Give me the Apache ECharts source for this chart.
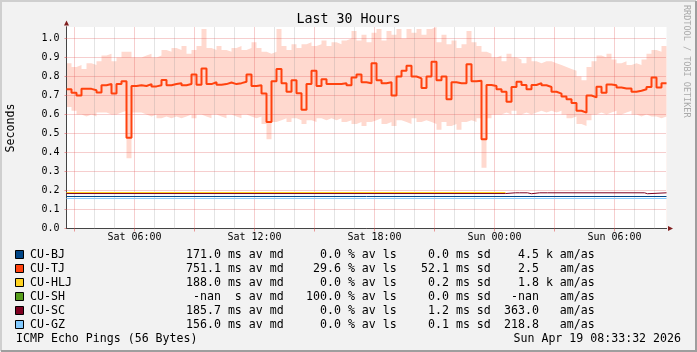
<!DOCTYPE html>
<html>
<head>
<meta charset="utf-8">
<script src="https://cdn.jsdelivr.net/npm/echarts@6/dist/echarts.min.js"></script>
<style>
  html, body { margin: 0; padding: 0; background: #f2f2f2; }
  #chart { width: 697px; height: 352px; }
</style>
</head>
<body>
<div id="chart"></div>
<script>
// x = hours since Sat 00:00 (Sat 02:36 .. Sun 08:36), one sample every 15 min
var startHour = 2.6;
var endHour = 32.6;
var stepHour = 0.25;

// CU-TJ median and smoke (min / max ping), seconds
var tjMedian = [
  0.733, 0.715, 0.700, 0.735, 0.735, 0.728, 0.716, 0.754, 0.760, 0.710, 0.760, 0.775,
  0.477, 0.750, 0.754, 0.750, 0.760, 0.748, 0.754, 0.782, 0.754, 0.760, 0.765, 0.754,
  0.760, 0.810, 0.757, 0.842, 0.760, 0.770, 0.756, 0.760, 0.768, 0.760, 0.765, 0.772,
  0.810, 0.750, 0.754, 0.710, 0.561, 0.775, 0.840, 0.765, 0.720, 0.780, 0.712, 0.625,
  0.760, 0.830, 0.750, 0.785, 0.760, 0.760, 0.760, 0.765, 0.754, 0.795, 0.810, 0.770,
  0.765, 0.870, 0.780, 0.765, 0.770, 0.700, 0.800, 0.830, 0.856, 0.800, 0.790, 0.740,
  0.800, 0.877, 0.780, 0.800, 0.680, 0.770, 0.765, 0.765, 0.865, 0.775, 0.778, 0.470,
  0.755, 0.750, 0.733, 0.720, 0.667, 0.745, 0.772, 0.755, 0.733, 0.755, 0.765, 0.754,
  0.745, 0.720, 0.710, 0.695, 0.680, 0.660, 0.620, 0.610, 0.700, 0.690, 0.746, 0.715,
  0.758, 0.754, 0.742, 0.737, 0.737, 0.720, 0.725, 0.733, 0.745, 0.795, 0.742, 0.765
];
var tjSmokeTop = [
  0.87, 0.85, 0.86, 0.84, 0.87, 0.86, 0.88, 0.91, 0.92, 0.88, 0.90, 0.93,
  0.93, 0.90, 0.90, 0.91, 0.92, 0.90, 0.91, 0.94, 0.93, 0.95, 0.94, 0.96,
  0.92, 0.94, 0.96, 1.05, 0.95, 0.94, 0.96, 0.94, 0.93, 0.95, 0.96, 0.94,
  0.95, 0.98, 0.95, 0.93, 0.92, 0.93, 1.05, 0.96, 0.94, 0.97, 0.95, 0.97,
  0.98, 0.96, 0.97, 0.99, 0.96, 0.98, 0.97, 0.99, 1.00, 1.04, 0.99, 1.02,
  0.98, 1.03, 1.05, 0.99, 1.04, 1.02, 1.05, 1.00, 1.05, 1.03, 1.05, 1.02,
  1.05, 1.06, 0.98, 1.02, 0.97, 0.99, 0.95, 0.97, 1.04, 0.98, 0.96, 0.93,
  0.92, 0.90, 0.91, 0.88, 0.92, 0.90, 0.89, 0.87, 0.90, 0.88, 0.87, 0.88,
  0.88, 0.87, 0.86, 0.85, 0.84, 0.83, 0.80, 0.78, 0.85, 0.88, 0.91, 0.90,
  0.92, 0.89, 0.87, 0.88, 0.86, 0.87, 0.86, 0.89, 0.92, 0.94, 0.93, 0.96
];
var tjSmokeLow = [
  0.64, 0.62, 0.60, 0.59, 0.60, 0.59, 0.61, 0.61, 0.60, 0.60, 0.61, 0.62,
  0.37, 0.61, 0.61, 0.60, 0.59, 0.60, 0.58, 0.59, 0.58, 0.59, 0.58, 0.59,
  0.60, 0.58, 0.60, 0.59, 0.58, 0.60, 0.59, 0.58, 0.60, 0.59, 0.58, 0.60,
  0.59, 0.58, 0.59, 0.55, 0.47, 0.56, 0.57, 0.58, 0.56, 0.58, 0.57, 0.55,
  0.57, 0.56, 0.58, 0.57, 0.58, 0.57, 0.58, 0.56, 0.57, 0.55, 0.56, 0.54,
  0.56, 0.57, 0.58, 0.55, 0.56, 0.54, 0.57, 0.56, 0.55, 0.58, 0.56, 0.57,
  0.56, 0.55, 0.52, 0.56, 0.54, 0.55, 0.52, 0.56, 0.57, 0.56, 0.58, 0.32,
  0.58, 0.60, 0.60, 0.61, 0.60, 0.62, 0.60, 0.61, 0.60, 0.61, 0.62, 0.61,
  0.62, 0.61, 0.62, 0.60, 0.58, 0.59, 0.55, 0.54, 0.57, 0.60, 0.61, 0.60,
  0.61, 0.62, 0.60, 0.61, 0.62, 0.60, 0.59, 0.60, 0.59, 0.59, 0.58, 0.59
];

// the flat hosts
var bjHours = [2.6, 32.6];
var bjValues = [0.1684, 0.1684];
var hljHours = [2.6, 24.55];
var hljValues = [0.1895, 0.1895];
var scHours = [2.6, 24.55, 25.05, 25.15, 25.25, 25.3, 25.65, 25.85, 26.25, 26.35, 26.65, 26.75, 31.5, 31.65, 32.6];
var scValues = [0.184, 0.1879, 0.183, 0.1879, 0.183, 0.1879, 0.183, 0.1879, 0.183, 0.1879, 0.183, 0.1879, 0.183, 0.1879, 0.1879];
var gzHours = [2.6, 32.6];
var gzValues = [0.158, 0.158];

// legend
var hostNames = ["CU-BJ", "CU-TJ", "CU-HLJ", "CU-SH", "CU-SC", "CU-GZ"];
var hostColors = ["#004586", "#ff420e", "#ffd320", "#579d1c", "#7e0021", "#83caff"];
var medianText = ["171.0", "751.1", "188.0", "-nan", "185.7", "156.0"];
var medianPrefix = ["m", "m", "m", " ", "m", "m"];
var lossText = ["0.0", "29.6", "0.0", "100.0", "0.0", "0.0"];
var sdText = ["0.0", "52.1", "0.2", "0.0", "1.2", "0.1"];
var amasText = ["4.5", "2.5", "1.8", "-nan", "363.0", "218.8"];
var amasPrefix = ["k", " ", "k", " ", " ", " "];

// axes
var xLabelHours = [6, 12, 18, 24, 30];
var xLabelText = ["Sat 06:00", "Sat 12:00", "Sat 18:00", "Sun 00:00", "Sun 06:00"];
var majorHours = [3, 6, 9, 12, 15, 18, 21, 24, 27, 30];
var minorHours = [4, 5, 7, 8, 10, 11, 13, 14, 16, 17, 19, 20, 22, 23, 25, 26, 28, 29, 31, 32];
var yTicks = [0, 0.1, 0.2, 0.3, 0.4, 0.5, 0.6, 0.7, 0.8, 0.9, 1.0];

var mono = "DejaVu Sans Mono";
var minorColor = "rgba(150,150,150,0.5)";
var majorColor = "rgba(222,79,79,0.55)";

function pad(s, n) {
  while (s.length < n) s = " " + s;
  return s;
}

function stepData(values) {
  var out = values.map(function (v, i) { return [startHour + i * stepHour, v]; });
  out.push([endHour, values[values.length - 1]]);
  return out;
}
function pairs(hours, values) {
  return hours.map(function (h, i) { return [h, values[i]]; });
}

var gridLines = [];
minorHours.forEach(function (h) {
  gridLines.push({ xAxis: h, lineStyle: { color: minorColor, type: [1, 1], width: 1 } });
});
majorHours.forEach(function (h) {
  gridLines.push({ xAxis: h, lineStyle: { color: majorColor, type: [1, 1], width: 1 } });
});
yTicks.forEach(function (v) {
  if (v > 0) gridLines.push({ yAxis: v, lineStyle: { color: majorColor, type: [1, 1], width: 1 } });
});

var flatLine = function (name, data, color) {
  return {
    name: name, type: "line", data: data, step: "end", symbol: "none", z: 3,
    silent: true, lineStyle: { color: color, width: 1 }
  };
};

// legend rows, title and side texts
var graphics = [];
var rowY = 255.2, rowGap = 14;
hostNames.forEach(function (name, i) {
  var y = rowY + rowGap * i;
  graphics.push({ type: "rect", shape: { x: 15.5, y: y - 4.7, width: 8, height: 8 },
    style: { fill: hostColors[i], stroke: "#000", lineWidth: 1 } });
  var cols = [
    [30, name],
    [186, pad(medianText[i], 5) + " " + medianPrefix[i] + "s av md"],
    [306, pad(lossText[i], 5) + " % av ls"],
    [421, pad(sdText[i], 4) + " ms sd"],
    [504, pad(amasText[i], 5) + " " + amasPrefix[i] + " am/as"]
  ];
  cols.forEach(function (c) {
    graphics.push({ type: "text", x: c[0], y: y,
      style: { text: c[1], fill: "#000", fontFamily: mono, fontSize: 11.6, textAlign: "left", textVerticalAlign: "middle" } });
  });
});
var lastY = rowY + rowGap * 6;
graphics.push({ type: "text", x: 16, y: lastY,
  style: { text: "ICMP Echo Pings (56 Bytes)", fill: "#000", fontFamily: mono, fontSize: 11.6, textAlign: "left", textVerticalAlign: "middle" } });
graphics.push({ type: "text", x: 681, y: lastY,
  style: { text: "Sun Apr 19 08:33:32 2026", fill: "#000", fontFamily: mono, fontSize: 11.6, textAlign: "right", textVerticalAlign: "middle" } });
graphics.push({ type: "text", x: 348.5, y: 20, z: 10,
  style: { text: "Last 30 Hours", fill: "#000", fontFamily: mono, fontSize: 13.3, textAlign: "center", textVerticalAlign: "middle" } });
graphics.push({ type: "text", x: 10.5, y: 128, rotation: Math.PI / 2,
  style: { text: "Seconds", fill: "#000", fontFamily: mono, fontSize: 11.6, textAlign: "center", textVerticalAlign: "middle" } });
graphics.push({ type: "text", x: 686.5, y: 5, rotation: -Math.PI / 2,
  style: { text: "RRDTOOL / TOBI OETIKER", fill: "#aaa", fontFamily: mono, fontSize: 8.5, textAlign: "left", textVerticalAlign: "middle" } });
// frame
graphics.push({ type: "polyline", shape: { points: [[1, 351], [1, 1], [696, 1]] }, style: { stroke: "#cfcfcf", lineWidth: 2, fill: null } });
graphics.push({ type: "polyline", shape: { points: [[1, 351], [696, 351], [696, 1]] }, style: { stroke: "#9e9e9e", lineWidth: 2, fill: null } });

var chart = echarts.init(document.getElementById("chart"));
var option = {
  animation: false,
  backgroundColor: "#f2f2f2",
  grid: { left: 66.5, top: 27, width: 600, height: 201.5, show: true, backgroundColor: "#fff", borderWidth: 0 },
  xAxis: [
    {
      type: "value", min: startHour, max: endHour, position: "bottom", z: 1,
      axisLine: { show: true, onZero: false, lineStyle: { color: "#444" } },
      axisTick: { show: true, customValues: majorHours, length: 3, lineStyle: { color: majorColor } },
      axisLabel: {
        customValues: xLabelHours, margin: 4, color: "#000", fontFamily: mono, fontSize: 10,
        formatter: function (v) {
          var i = xLabelHours.indexOf(v);
          return i >= 0 ? xLabelText[i] : "";
        }
      },
      splitLine: { show: false }
    },
    {
      // only the arrow at the end of the time axis
      type: "value", min: startHour, max: endHour, position: "bottom", z: 0,
      axisLine: { show: true, onZero: false, lineStyle: { color: "#801f1f" },
        symbol: ["none", "triangle"], symbolSize: [5, 5], symbolOffset: [0, 4] },
      axisTick: { show: false }, axisLabel: { show: false }, splitLine: { show: false }
    }
  ],
  yAxis: [
    {
      type: "value", min: 0, max: 1.0605, position: "left", z: 1,
      axisLine: { show: true, onZero: false, lineStyle: { color: "#444" } },
      axisTick: { show: true, customValues: yTicks, length: 2, lineStyle: { color: majorColor } },
      axisLabel: {
        customValues: yTicks, margin: 7, color: "#000", fontFamily: mono, fontSize: 10,
        formatter: function (v) { return v.toFixed(1); }
      },
      splitLine: { show: false }
    },
    {
      type: "value", min: 0, max: 1.0605, position: "left", z: 0,
      axisLine: { show: true, onZero: false, lineStyle: { color: "#801f1f" },
        symbol: ["none", "triangle"], symbolSize: [5, 5], symbolOffset: [0, 4] },
      axisTick: { show: false }, axisLabel: { show: false }, splitLine: { show: false }
    }
  ],
  graphic: graphics,
  series: [
    {
      // smoke: fill up to the highest ping...
      name: "smoke-top", type: "line", step: "end", symbol: "none", z: 1, silent: true,
      data: stepData(tjSmokeTop),
      lineStyle: { width: 0, opacity: 0 },
      areaStyle: { color: "#ffd9cf", opacity: 1 }
    },
    {
      // ...then blank out below the lowest ping
      name: "smoke-low", type: "line", step: "end", symbol: "none", z: 1, silent: true,
      data: stepData(tjSmokeLow),
      lineStyle: { width: 0, opacity: 0 },
      areaStyle: { color: "#ffffff", opacity: 1 },
      markLine: {
        silent: true, z: 2, symbol: ["none", "none"], label: { show: false },
        emphasis: { disabled: true }, animation: false, data: gridLines
      }
    },
    flatLine("CU-BJ", pairs(bjHours, bjValues), hostColors[0]),
    {
      name: "CU-TJ", type: "line", step: "end", symbol: "none", z: 3, silent: true,
      data: stepData(tjMedian),
      lineStyle: { color: hostColors[1], width: 2 }
    },
    flatLine("CU-HLJ", pairs(hljHours, hljValues), hostColors[2]),
    flatLine("CU-SC", pairs(scHours, scValues), hostColors[4]),
    flatLine("CU-GZ", pairs(gzHours, gzValues), hostColors[5])
  ]
};
chart.setOption(option);
</script>
</body>
</html>
